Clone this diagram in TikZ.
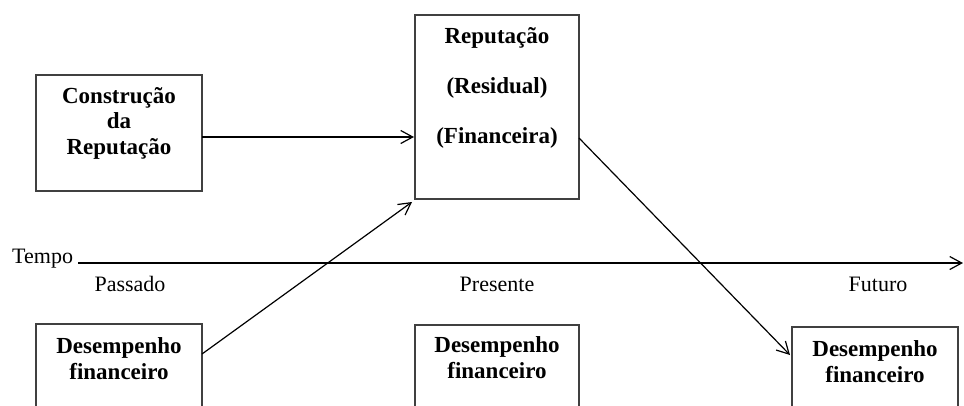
\documentclass[tikz,border=0pt]{standalone}
\usepackage{fontspec}
\setmainfont{Liberation Serif}
\usetikzlibrary{arrows.meta,calc}
\begin{document}
\begin{tikzpicture}[x=1pt,y=-1pt,
  box/.style={draw=black!75, line width=1.1pt, rectangle, inner sep=0pt, outer sep=0pt},
  btext/.style={font=\fontsize{23}{25.5}\selectfont\bfseries, align=center, inner sep=0pt, anchor=base},
  ltext/.style={font=\fontsize{22}{26}\selectfont, inner sep=0pt, anchor=base},
  arr/.style={-{Straight Barb[length=12pt,width=13pt,line width=1.2pt]}, line width=1.2pt}]
\useasboundingbox (0,0) rectangle (964,405);
\clip (0,0) rectangle (964,405);
% boxes
\node[box, minimum width=166pt, minimum height=116pt] (cons) at (119,133) {};
\node[btext] (consT) at (119,154) {Construção\\da\\Reputação};
\node[box, minimum width=164pt, minimum height=184pt] (rep) at (497,107) {};
\node[btext, font=\fontsize{23}{50}\selectfont\bfseries] (repT) at (497,143) {Reputação\\(Residual)\\(Financeira)};
\node[box, minimum width=166pt, minimum height=120pt] (d1) at (119,384) {};
\node[btext] (d1T) at (119,379) {Desempenho\\financeiro};
\node[box, minimum width=164pt, minimum height=120pt] (d2) at (497,385) {};
\node[btext] (d2T) at (497,378) {Desempenho\\financeiro};
\node[box, minimum width=166pt, minimum height=120pt] (d3) at (875,387) {};
\node[btext] (d3T) at (875,382) {Desempenho\\financeiro};
% timeline
\coordinate (t0) at (78,263);
\coordinate (t1) at (963,263);
\draw[arr] (t0) -- (t1);
\node[ltext, anchor=base west] (tempo) at (12,263) {Tempo};
\node[ltext] (passado) at (130,291) {Passado};
\node[ltext] (presente) at (497,291) {Presente};
\node[ltext] (futuro) at (878,291) {Futuro};
% connectors
\draw[arr] ($(cons.east)+(0,4)$) -- ($(rep.west)+(-1,30)$);
\draw[arr] ($(d1.north east)+(0,30)$) -- ($(rep.south west)+(-3,3)$);
\draw[arr] ($(rep.east)+(0,31)$) -- ($(d3.north west)+(-2,28)$);
\end{tikzpicture}
\end{document}
